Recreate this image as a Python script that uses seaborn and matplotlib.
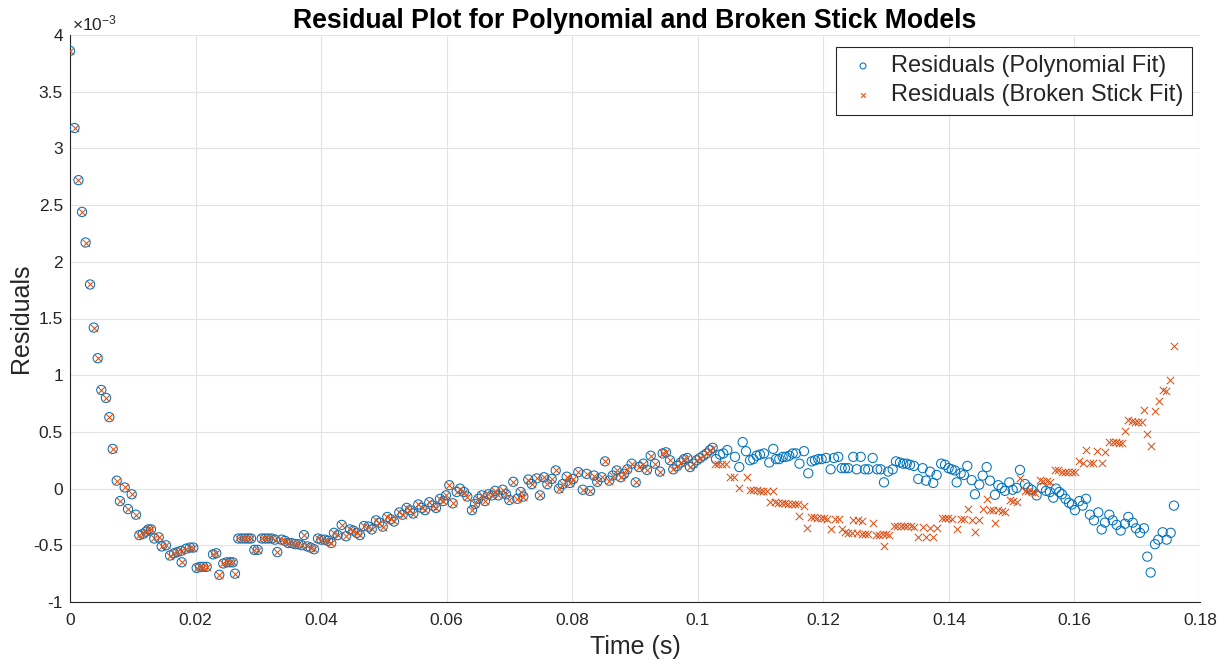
import numpy as np
import pandas as pd
import matplotlib
matplotlib.use("Agg")
import matplotlib.pyplot as plt
import seaborn as sns
from matplotlib.ticker import FuncFormatter

# ---------------- data (time in ms, residuals in units of 1e-3) ----------------
time_poly_ms = [
    0.0, 0.72, 1.35, 1.91, 2.48, 3.19, 3.78, 4.41, 4.99, 5.73,
    6.26, 6.80, 7.44, 7.96, 8.71, 9.24, 9.83, 10.51, 11.04, 11.58,
    12.11, 12.47, 12.90, 13.43, 14.13, 14.61, 15.29, 15.93, 16.57, 17.09,
    17.63, 17.79, 18.48, 19.11, 19.64, 20.18, 20.71, 21.23, 21.77, 22.78,
    23.30, 23.78, 24.42, 24.96, 25.49, 25.92, 26.28, 26.81, 27.35, 27.88,
    28.40, 28.83, 29.36, 29.90, 30.54, 31.06, 31.59, 32.13, 32.65, 33.02,
    33.72, 34.25, 34.77, 35.31, 35.84, 36.37, 36.91, 37.27, 37.80, 38.34,
    38.87, 39.50, 40.03, 40.57, 41.10, 41.62, 42.05, 42.64, 43.28, 43.96,
    44.60, 45.13, 45.67, 46.19, 46.83, 47.52, 48.06, 48.74, 49.27, 49.81,
    50.54, 51.08, 51.61, 52.45, 52.99, 53.63, 54.16, 54.68, 55.48, 56.02,
    56.55, 57.23, 57.77, 58.30, 58.94, 59.46, 59.89, 60.42, 60.96, 61.60,
    62.12, 62.76, 63.29, 64.03, 64.51, 65.04, 65.58, 66.10, 66.63, 67.17,
    67.70, 68.22, 68.92, 69.45, 69.97, 70.61, 71.25, 71.79, 72.21, 73.00,
    73.54, 74.34, 74.86, 75.50, 76.03, 76.73, 77.37, 77.89, 78.48, 79.12,
    79.64, 80.17, 80.97, 81.67, 82.30, 82.83, 83.47, 83.99, 84.69, 85.22,
    85.90, 86.44, 87.08, 87.72, 88.24, 88.77, 89.47, 90.11, 90.63, 91.32,
    91.90, 92.50, 93.18, 93.98, 94.41, 94.93, 95.57, 96.10, 96.74, 97.28,
    97.80, 98.33, 98.76, 99.28, 99.82, 100.35, 100.88, 101.42, 101.94, 102.37,
    102.90, 103.54, 104.06, 104.70, 105.93, 106.61, 107.15, 107.68, 108.32, 108.84,
    109.38, 109.91, 110.54, 111.39, 112.03, 112.46, 112.98, 113.52, 114.05, 114.58,
    115.12, 115.64, 116.20, 116.92, 117.60, 118.14, 118.67, 119.19, 119.73, 120.42,
    121.17, 121.69, 122.38, 122.92, 123.45, 123.97, 124.77, 125.31, 125.95, 126.63,
    127.16, 127.86, 128.59, 129.13, 129.66, 130.34, 131.05, 131.57, 132.21, 132.73,
    133.28, 133.80, 134.44, 135.12, 135.82, 136.35, 136.99, 137.51, 138.05, 138.77,
    139.38, 139.95, 140.44, 140.97, 141.24, 141.88, 142.40, 142.93, 143.63, 144.15,
    144.84, 145.38, 146.02, 146.54, 147.34, 147.87, 148.41, 148.93, 149.62, 150.16,
    150.80, 151.32, 152.12, 152.64, 153.18, 153.98, 154.78, 155.46, 156.10, 156.63,
    157.06, 157.58, 158.01, 158.57, 159.13, 159.61, 160.08, 160.77, 161.31, 161.84,
    162.47, 163.11, 163.80, 164.34, 164.86, 165.55, 166.09, 166.73, 167.36, 168.05,
    168.58, 169.28, 169.80, 170.44, 171.08, 171.60, 172.14, 172.83, 173.35, 174.05,
    174.69, 175.33, 175.85,
]

resid_poly_e3 = [
    3.86, 3.18, 2.72, 2.44, 2.17, 1.80, 1.42, 1.15, 0.87, 0.80,
    0.63, 0.35, 0.07, -0.11, 0.01, -0.18, -0.05, -0.23, -0.41, -0.40,
    -0.38, -0.36, -0.36, -0.44, -0.43, -0.51, -0.50, -0.59, -0.57, -0.56,
    -0.55, -0.65, -0.53, -0.52, -0.52, -0.70, -0.69, -0.69, -0.69, -0.58,
    -0.57, -0.76, -0.66, -0.65, -0.65, -0.65, -0.75, -0.44, -0.44, -0.44,
    -0.44, -0.44, -0.54, -0.54, -0.44, -0.44, -0.44, -0.44, -0.45, -0.56,
    -0.45, -0.46, -0.48, -0.48, -0.49, -0.49, -0.50, -0.41, -0.51, -0.52,
    -0.535, -0.44, -0.45, -0.45, -0.46, -0.48, -0.39, -0.41, -0.32, -0.42,
    -0.36, -0.37, -0.39, -0.41, -0.33, -0.335, -0.36, -0.28, -0.30, -0.335,
    -0.25, -0.27, -0.29, -0.21, -0.23, -0.17, -0.19, -0.22, -0.14, -0.17,
    -0.19, -0.12, -0.15, -0.17, -0.09, -0.11, -0.06, 0.03, -0.13, -0.03,
    0.0, -0.03, -0.07, -0.19, -0.135, -0.09, -0.06, -0.11, -0.05, -0.06,
    -0.02, -0.06, -0.01, -0.05, -0.10, 0.06, -0.09, -0.03, -0.07, 0.08,
    0.04, 0.09, -0.06, 0.10, 0.04, 0.085, 0.16, 0.0, 0.04, 0.105,
    0.05, 0.085, 0.145, -0.01, 0.13, -0.02, 0.115, 0.06, 0.10, 0.24,
    0.07, 0.115, 0.16, 0.10, 0.13, 0.17, 0.22, 0.055, 0.19, 0.22,
    0.165, 0.29, 0.22, 0.15, 0.31, 0.32, 0.25, 0.17, 0.20, 0.23,
    0.26, 0.27, 0.19, 0.22, 0.25, 0.27, 0.29, 0.31, 0.34, 0.36,
    0.26, 0.30, 0.31, 0.34, 0.28, 0.19, 0.41, 0.33, 0.25, 0.26,
    0.29, 0.30, 0.31, 0.23, 0.35, 0.26, 0.26, 0.28, 0.28, 0.29,
    0.31, 0.31, 0.22, 0.33, 0.135, 0.24, 0.25, 0.26, 0.26, 0.27,
    0.17, 0.27, 0.28, 0.18, 0.18, 0.18, 0.28, 0.17, 0.28, 0.17,
    0.17, 0.27, 0.17, 0.17, 0.055, 0.15, 0.17, 0.24, 0.23, 0.22,
    0.22, 0.21, 0.20, 0.085, 0.18, 0.07, 0.15, 0.05, 0.12, 0.22,
    0.21, 0.18, 0.17, 0.16, 0.055, 0.135, 0.12, 0.20, 0.075, -0.05,
    0.035, 0.115, 0.19, 0.07, -0.055, 0.03, 0.006, -0.02, 0.055, -0.01,
    0.006, 0.165, 0.04, 0.01, -0.01, -0.06, 0.006, -0.02, -0.03, -0.08,
    0.0, -0.03, -0.05, -0.09, -0.125, -0.14, -0.19, -0.11, -0.15, -0.09,
    -0.23, -0.28, -0.21, -0.36, -0.30, -0.23, -0.28, -0.32, -0.37, -0.31,
    -0.25, -0.30, -0.35, -0.39, -0.35, -0.60, -0.74, -0.49, -0.45, -0.385,
    -0.45, -0.39, -0.15,
]

# broken-stick residuals coincide with the polynomial ones for the first samples
shared_count = 180

time_stick_tail_ms = [
    102.74, 103.27, 103.81, 104.49, 105.13, 105.77, 106.61, 107.79, 108.32, 108.84,
    109.38, 109.91, 110.43, 110.98, 111.50, 112.03, 112.30, 112.82, 113.36, 113.89,
    114.42, 114.96, 115.48, 116.01, 116.20, 116.92, 117.44, 117.98, 118.51, 119.04,
    119.58, 120.10, 120.66, 121.17, 121.92, 122.45, 122.92, 123.45, 123.97, 124.51,
    124.77, 125.31, 125.56, 126.10, 126.23, 126.63, 127.16, 127.86, 128.39, 128.92,
    129.46, 129.66, 129.98, 130.51, 131.25, 131.78, 132.32, 132.85, 133.37, 133.91,
    134.44, 135.12, 135.82, 136.35, 136.99, 137.51, 138.05, 138.90, 139.38, 139.90,
    140.44, 141.24, 141.88, 142.40, 143.09, 143.63, 144.15, 144.84, 145.50, 146.02,
    146.54, 147.07, 147.34, 147.87, 148.41, 148.93, 149.73, 150.26, 150.80, 151.32,
    152.12, 152.64, 153.18, 153.71, 154.51, 155.03, 155.57, 156.10, 156.90, 157.43,
    157.96, 158.49, 159.02, 159.56, 160.08, 160.77, 161.31, 161.84, 162.47, 163.00,
    163.64, 164.34, 164.86, 165.55, 166.09, 166.62, 167.14, 167.52, 168.05, 168.58,
    169.12, 169.64, 170.17, 170.71, 171.08, 171.60, 172.14, 172.83, 173.51, 174.05,
    174.58, 175.21, 175.85,
]

resid_stick_tail_e3 = [
    0.22, 0.22, 0.22, 0.22, 0.105, 0.105, 0.006, 0.10, -0.01, -0.01,
    -0.01, -0.02, -0.02, -0.02, -0.12, -0.02, -0.12, -0.13, -0.13, -0.13,
    -0.14, -0.135, -0.135, -0.135, -0.245, -0.15, -0.35, -0.25, -0.25, -0.26,
    -0.26, -0.26, -0.27, -0.36, -0.27, -0.27, -0.36, -0.38, -0.39, -0.39,
    -0.28, -0.39, -0.28, -0.29, -0.40, -0.40, -0.40, -0.30, -0.41, -0.41,
    -0.40, -0.51, -0.40, -0.41, -0.33, -0.33, -0.33, -0.33, -0.33, -0.33,
    -0.335, -0.43, -0.34, -0.43, -0.35, -0.43, -0.35, -0.26, -0.26, -0.26,
    -0.27, -0.36, -0.27, -0.27, -0.18, -0.28, -0.385, -0.28, -0.18, -0.09,
    -0.19, -0.19, -0.30, -0.19, -0.20, -0.21, -0.10, -0.11, -0.12, 0.09,
    -0.02, -0.02, -0.03, -0.04, 0.075, 0.07, 0.07, 0.055, 0.16, 0.16,
    0.15, 0.15, 0.15, 0.15, 0.15, 0.24, 0.23, 0.34, 0.225, 0.225,
    0.33, 0.225, 0.32, 0.415, 0.415, 0.41, 0.40, 0.40, 0.51, 0.605,
    0.60, 0.59, 0.59, 0.59, 0.69, 0.48, 0.38, 0.68, 0.77, 0.87,
    0.86, 0.96, 1.26,
]

x_ticks = [0, 0.02, 0.04, 0.06, 0.08, 0.10, 0.12, 0.14, 0.16, 0.18]
y_ticks_e3 = [-1, -0.5, 0, 0.5, 1, 1.5, 2, 2.5, 3, 3.5, 4]

# ---------------- build frames ----------------
n = min(len(time_poly_ms), len(resid_poly_e3))
poly_df = pd.DataFrame({
    "t": np.asarray(time_poly_ms[:n]) / 1000.0,
    "r": np.asarray(resid_poly_e3[:n]) * 1e-3,
})
m = min(len(time_stick_tail_ms), len(resid_stick_tail_e3))
stick_t = list(time_poly_ms[:shared_count]) + list(time_stick_tail_ms[:m])
stick_r = list(resid_poly_e3[:shared_count]) + list(resid_stick_tail_e3[:m])
stick_df = pd.DataFrame({
    "t": np.asarray(stick_t) / 1000.0,
    "r": np.asarray(stick_r) * 1e-3,
})

# ---------------- style ----------------
sns.set_style("white")
plt.rcParams["font.family"] = ["Liberation Sans", "DejaVu Sans"]
plt.rcParams["axes.unicode_minus"] = False
plt.rcParams["mathtext.fontset"] = "custom"
plt.rcParams["mathtext.rm"] = "Liberation Sans"
plt.rcParams["mathtext.it"] = "Liberation Sans"

BLUE = "#0072BD"
ORANGE = "#D95319"
DARK = "#262626"

fig = plt.figure(figsize=(12.27, 6.60), dpi=100)
ax = fig.add_axes([70 / 1227, 1 - 602 / 660, 1130 / 1227, 567 / 660])

sns.scatterplot(data=poly_df, x="t", y="r", ax=ax, marker="o",
                facecolors="none", edgecolor=BLUE, linewidth=0.75, s=44,
                label="Residuals (Polynomial Fit)", zorder=3)
sns.scatterplot(data=stick_df, x="t", y="r", ax=ax, marker="x",
                color=ORANGE, linewidth=0.75, s=28,
                label="Residuals (Broken Stick Fit)", zorder=4)

ax.set_xlim(0, 0.18)
ax.set_ylim(-1e-3, 4e-3)
ax.set_xticks(x_ticks)
ax.set_yticks([v * 1e-3 for v in y_ticks_e3])
ax.xaxis.set_major_formatter(FuncFormatter(lambda v, _: f"{round(v, 6):g}"))
ax.yaxis.set_major_formatter(FuncFormatter(lambda v, _: f"{round(v * 1e3, 6):g}"))

ax.grid(True, color="#e3e3e3", linewidth=0.8)
ax.set_axisbelow(True)
for side in ["top", "right"]:
    ax.spines[side].set_visible(False)
for side in ["left", "bottom"]:
    ax.spines[side].set_color(DARK)
    ax.spines[side].set_linewidth(0.8)
ax.tick_params(axis="both", direction="in", length=8, width=0.8,
               colors=DARK, labelsize=12.5)
ax.tick_params(axis="x", pad=8)
ax.tick_params(axis="y", pad=5)

ax.text(0.002, 1.002, r"$\times\mathregular{10^{-3}}$", transform=ax.transAxes,
        fontsize=12.5, color=DARK, ha="left", va="bottom")

ax.set_title("Residual Plot for Polynomial and Broken Stick Models",
             fontsize=19.2, fontweight="bold", color="black", pad=5)
ax.set_xlabel("Time (s)", fontsize=18, color=DARK, labelpad=5)
ax.set_ylabel("Residuals", fontsize=18, color=DARK, labelpad=0)

leg = ax.legend(loc="upper right", fontsize=17, frameon=True, fancybox=False,
                framealpha=1, edgecolor=DARK, borderpad=0.35,
                borderaxespad=0, labelspacing=0.3,
                handletextpad=0.4, handlelength=1.6, markerscale=0.65,
                bbox_to_anchor=(0.9929, 0.979))
leg.get_frame().set_linewidth(0.8)

fig.savefig("out.png", dpi=100)
